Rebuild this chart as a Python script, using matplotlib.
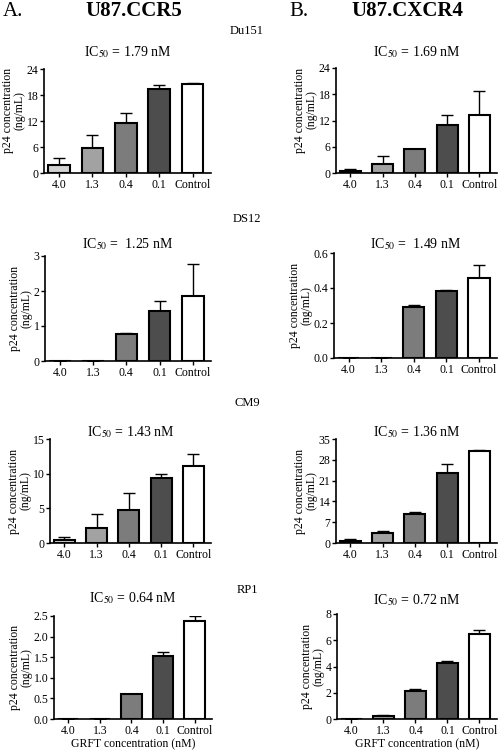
import numpy as np
import matplotlib
matplotlib.use("Agg")
import matplotlib.pyplot as plt

plt.rcParams['font.family'] = ['Liberation Serif', 'DejaVu Serif']
plt.rcParams['mathtext.fontset'] = 'stix'

doses = ['4.0', '1.3', '0.4', '0.1', 'Control']
bar_colors = ['#d2d2d2', '#a2a2a2', '#7c7c7c', '#4d4d4d', '#ffffff']
strains = ['Du151', 'DS12', 'CM9', 'RP1']

# U87.CCR5 (column A)
ccr5_means = [[1.8, 5.7, 11.5, 19.5, 20.6],
              [0.0, 0.0, 0.76, 1.42, 1.87],
              [0.5, 2.2, 4.8, 9.4, 11.1],
              [0.0, 0.0, 0.61, 1.54, 2.38]]
ccr5_errs = [[1.6, 3.0, 2.3, 0.8, 0.2],
             [0.0, 0.0, 0.03, 0.3, 0.9],
             [0.4, 2.0, 2.4, 0.6, 1.7],
             [0.0, 0.0, 0.0, 0.08, 0.11]]
ccr5_ic50 = ['1.79', ' 1.25', '1.43', '0.64']
ccr5_ticks = [[0, 6, 12, 18, 24], [0, 1, 2, 3], [0, 5, 10, 15],
              [0.0, 0.5, 1.0, 1.5, 2.0, 2.5]]

# U87.CXCR4 (column B)
cxcr4_means = [[0.5, 2.0, 5.4, 11.0, 13.2],
               [0.0, 0.0, 0.29, 0.385, 0.46],
               [0.8, 3.2, 9.7, 23.7, 31.0],
               [0.0, 0.25, 2.1, 4.3, 6.45]]
cxcr4_errs = [[0.5, 2.0, 0.1, 2.3, 5.5],
              [0.0, 0.0, 0.015, 0.005, 0.07],
              [0.7, 0.7, 0.8, 2.8, 0.3],
              [0.0, 0.05, 0.2, 0.15, 0.3]]
cxcr4_ic50 = ['1.69', ' 1.49', '1.36', '0.72']
cxcr4_ticks = [[0, 6, 12, 18, 24], [0.0, 0.2, 0.4, 0.6], [0, 7, 14, 21, 28, 35],
               [0, 2, 4, 6, 8]]
tick_fmt_a = ['{:.0f}', '{:.0f}', '{:.0f}', '{:.1f}']
tick_fmt_b = ['{:.0f}', '{:.1f}', '{:.0f}', '{:.0f}']

W, H = 500, 753
fig = plt.figure(figsize=(W / 100, H / 100), dpi=100)

# layout in pixels: axes box (left, right, top, bottom), title y, ylabel y (axes frac)
boxes_a = [(44, 211, 69, 173), (45, 211, 256, 361), (50, 211, 439, 543), (54, 212, 616, 719)]
boxes_b = [(336, 497, 68, 173), (334, 497, 253, 358), (336, 497, 439, 543), (337, 497, 614, 719)]
title_y_a = [52, 244, 432, 598]
title_y_b = [52, 244, 432, 600]
ylab_ya = [0.6, 0.5, 0.5, 0.5]
ylab_yb = [0.6, 0.5, 0.5, 0.5]


def px(xp, yp):
    return xp / W, 1 - yp / H


def make_panel(box, means, errs, ticks, fmt, ic50, title_y, ylab_y, last):
    l, r, t, b = box
    ax = fig.add_axes([l / W, 1 - b / H, (r - l) / W, (b - t) / H])
    x = np.arange(len(doses))
    ax.bar(x, means, width=0.65, color=bar_colors, edgecolor='black', linewidth=1.5, zorder=2)
    ax.errorbar(x, means, yerr=[np.zeros(len(errs)), errs], fmt='none', ecolor='black',
                elinewidth=1.0, capsize=4, capthick=1.0, zorder=1)
    ax.set_xlim(-0.45, 4.55)
    ax.set_ylim(0, ticks[-1])
    ax.set_yticks(ticks)
    ax.set_yticklabels([fmt.format(v) for v in ticks])
    ax.set_xticks(x)
    ax.set_xticklabels(doses)
    for s in ['top', 'right']:
        ax.spines[s].set_visible(False)
    for s in ['left', 'bottom']:
        ax.spines[s].set_linewidth(1.2)
    ax.tick_params(axis='both', labelsize=8.5, length=3, width=1.0, pad=1)
    fig.text(*px((l + r) / 2, title_y), 'IC$_{50}$ = ' + ic50 + ' nM',
             ha='center', va='center', fontsize=10)
    ax.set_ylabel('p24 concentration\n(ng/mL)', fontsize=8.5, linespacing=0.95, labelpad=1)
    ax.yaxis.label.set_y(ylab_y)
    if last:
        ax.set_xlabel('GRFT concentration (nM)', fontsize=8.5, labelpad=1)
    return ax


for i in range(4):
    make_panel(boxes_a[i], ccr5_means[i], ccr5_errs[i], ccr5_ticks[i], tick_fmt_a[i],
               ccr5_ic50[i], title_y_a[i], ylab_ya[i], i == 3)
    make_panel(boxes_b[i], cxcr4_means[i], cxcr4_errs[i], cxcr4_ticks[i], tick_fmt_b[i],
               cxcr4_ic50[i], title_y_b[i], ylab_yb[i], i == 3)

strain_y = [31, 219, 403, 590]
for name, yy in zip(strains, strain_y):
    fig.text(*px(247, yy), name, ha='center', va='center', fontsize=9)

fig.text(*px(3, 11), 'A.', ha='left', va='center', fontsize=15)
fig.text(*px(134, 11), 'U87.CCR5', ha='center', va='center', fontsize=15, fontweight='bold')
fig.text(*px(289, 11), 'B.', ha='left', va='center', fontsize=15)
fig.text(*px(407, 11), 'U87.CXCR4', ha='center', va='center', fontsize=15, fontweight='bold')

fig.savefig('out.png', dpi=100)
